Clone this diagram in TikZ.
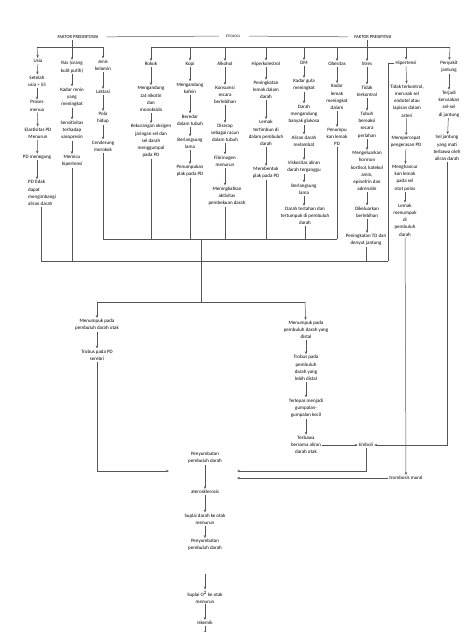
\documentclass[tikz,border=0pt]{standalone}
\usepackage{fontspec}
\setmainfont{Carlito}
\usetikzlibrary{arrows.meta,positioning}
\definecolor{lineGray}{RGB}{85,85,85}

\begin{document}
\begin{tikzpicture}[x=1pt,y=-1pt,
    lbl/.style={font=\fontsize{5}{7.2}\selectfont, align=center, inner sep=1pt},
    hd/.style={font=\fontsize{4.6}{6}\selectfont, inner sep=1pt},
    ln/.style={draw=lineGray, line width=0.5pt},
    arr/.style={ln, -{Stealth[length=3pt,width=2.4pt]}}
  ]
  \useasboundingbox (0,0) rectangle (474,632);
  % Header
  \node[hd] (pre) at (78,37) {FAKTOR PREDISPOSISI};
  \node[hd, font=\fontsize{3.6}{5}\selectfont] (eti) at (233,36) {ETIOLOGI};
  \node[hd] (prs) at (373,37) {FAKTOR PRESIPITASI};
  \draw[ln, shorten <=7pt, shorten >=6pt] (pre) -- (eti);
  \draw[ln, shorten <=8pt, shorten >=5pt] (eti) -- (prs);
  % Bars
  \coordinate (pbL) at (37,47);
  \coordinate (pbR) at (103,47);
  \coordinate (sbL) at (151,47);
  \coordinate (sbR) at (450,47);
  \coordinate (kL) at (103,239);
  \coordinate (kR) at (337,239);
  \coordinate (jL) at (41,261);
  \coordinate (jR) at (388,261);
  \draw[ln] (pbL) -- (pbR);
  \draw[ln] (sbL) -- (sbR);
  \draw[ln] (kL) -- (kR);
  \draw[ln] (jL) -- (jR);

  % Predisposisi: usia
  \node[lbl] (usia) at (38,61) {Usia};
  \node[lbl] (usia55) at (37,81) {Setelah\\usia > 55};
  \node[lbl] (menua) at (37,106) {Proses\\menua};
  \node[lbl] (elast) at (38,133) {Elastisitas PD\\Menurun};
  \node[lbl] (tegang) at (37,157) {PD menegang};
  \node[lbl, align=left, anchor=west] (tidak) at (27,193) {PD tidak\\dapat\\mengimbangi\\aliran darah};
  \draw[arr] (pbL) -- (usia);
  \draw[arr] (usia) -- (usia55);
  \draw[arr] (usia55) -- (menua);
  \draw[arr] (menua) -- (elast);
  \draw[arr] (elast) -- (tegang);
  \draw[arr] (tegang) -- (tegang |- tidak.north);
  \draw[ln] (jL |- tidak.south) -- (jL);
  % Predisposisi: ras
  \node[lbl] (ras) at (72,67) {Ras (orang\\kulit putih)};
  \node[lbl] (renin) at (72,97) {Kadar renin\\yang\\meningkat};
  \node[lbl] (sens) at (72,130) {Sensitivitas\\terhadap\\vasopresin};
  \node[lbl] (memicu) at (72,161) {Memicu\\hipertensi};
  \draw[arr] (pre.south -| ras) -- (ras);
  \draw[arr] (ras) -- (renin);
  \draw[arr] (renin) -- (sens);
  \draw[arr] (sens) -- (memicu);
  \draw[ln] (memicu) -- (memicu |- jL);
  % Predisposisi: jenis kelamin
  \node[lbl] (jenis) at (103,65) {Jenis\\kelamin};
  \node[lbl] (laktasi) at (103,92) {Laktasi};
  \node[lbl] (pola) at (103,118) {Pola\\hidup};
  \node[lbl] (cend) at (103,146) {Cenderung\\merokok};
  \draw[arr] (pbR) -- (jenis);
  \draw[arr] (jenis) -- (laktasi);
  \draw[arr] (laktasi) -- (pola);
  \draw[arr] (pola) -- (cend);
  \draw[ln] (cend) -- (kL);

  % Presipitasi: rokok
  \node[lbl] (rokok) at (151,64) {Rokok};
  \node[lbl] (nikotin) at (151,99) {Mengandung\\zat nikotin\\dan\\monoksida};
  \node[lbl] (kurang) at (151,141) {Kekurangan oksigen\\jaringan sel dan\\sel darah\\menggumpal\\pada PD};
  \draw[arr] (sbL) -- (rokok);
  \draw[arr] (rokok) -- (nikotin);
  \draw[arr] (nikotin) -- (kurang);
  \draw[ln] (kurang) -- (kurang |- kL);
  % Presipitasi: kopi
  \node[lbl] (kopi) at (190,64) {Kopi};
  \node[lbl] (kafein) at (190,88) {Mengandung\\kafein};
  \node[lbl] (beredar) at (190,120) {Beredar\\dalam tubuh};
  \node[lbl] (lama) at (190,143) {Berlangsung\\lama};
  \node[lbl] (plak) at (190,171) {Penumpukan\\plak pada PD};
  \draw[arr] (kopi |- sbL) -- (kopi);
  \draw[arr] (kopi) -- (kafein);
  \draw[arr] (kafein) -- (beredar);
  \draw[arr] (beredar) -- (lama);
  \draw[arr] (lama) -- (plak);
  \draw[ln] (plak) -- (plak |- kL);
  % Presipitasi: alkohol
  \node[lbl] (alkohol) at (225,64) {Alkohol};
  \node[lbl] (konsumsi) at (225,95) {Konsumsi\\secara\\berlebihan};
  \node[lbl] (racun) at (225,133) {Diserap\\sebagai racun\\dalam tubuh};
  \node[lbl] (fibrin) at (225,161) {Fibrinogen\\menurun};
  \node[lbl] (aktiv) at (227,196) {Meningkatkan\\aktivitas\\pembekuan darah};
  \draw[arr] (alkohol |- sbL) -- (alkohol);
  \draw[arr] (alkohol) -- (konsumsi);
  \draw[arr] (konsumsi) -- (racun);
  \draw[arr] (racun) -- (fibrin);
  \draw[arr] (fibrin) -- (fibrin |- aktiv.north);
  \draw[ln] (alkohol |- aktiv.south) -- (alkohol |- kL);
  % Presipitasi: hiperkolestrol
  \node[lbl] (hiper) at (266,64) {Hiperkolestrol};
  \node[lbl] (lemak) at (266,90) {Peningkatan\\lemak dalam\\darah};
  \node[lbl] (timbun) at (266,133) {Lemak\\tertimbun di\\dalam pembuluh\\darah};
  \node[lbl] (bentuk) at (266,173) {Membentuk\\plak pada PD};
  \draw[arr] (hiper |- sbL) -- (hiper);
  \draw[arr] (hiper) -- (lemak);
  \draw[arr] (lemak) -- (timbun);
  \draw[arr] (timbun) -- (bentuk);
  \draw[ln] (bentuk) -- (bentuk |- kL);
  % Presipitasi: DM
  \node[lbl] (dm) at (304,63) {DM};
  \node[lbl] (gula) at (304,85) {Kadar gula\\meningkat};
  \node[lbl] (banyak) at (304,114) {Darah\\mengandung\\banyak glukosa};
  \node[lbl] (lambat) at (304,141) {Aliran darah\\melambat};
  \node[lbl] (visko) at (304,167) {Viskositas aliran\\darah terganggu};
  \node[lbl] (lama2) at (304,189) {Berlangsung\\lama};
  \node[lbl] (tahan) at (305,216) {Darah tertahan dan\\tertumpuk di pembuluh\\darah};
  \draw[arr] (dm |- sbL) -- (dm);
  \draw[arr] (dm) -- (gula);
  \draw[arr] (gula) -- (banyak);
  \draw[arr] (banyak) -- (lambat);
  \draw[arr] (lambat) -- (visko);
  \draw[arr] (visko) -- (lama2);
  \draw[arr] (lama2) -- (lama2 |- tahan.north);
  \draw[ln] (tahan) -- (tahan |- kL);
  % Presipitasi: obesitas
  \node[lbl] (obes) at (337,64) {Obesitas};
  \node[lbl] (kadar) at (337,97) {Kadar\\lemak\\meningkat\\dalam};
  \node[lbl] (numpuk) at (337,137) {Penumpu\\kan lemak\\PD};
  \draw[arr] (obes |- sbL) -- (obes);
  \draw[arr] (obes) -- (kadar);
  \draw[arr] (kadar) -- (numpuk);
  \draw[ln] (numpuk) -- (kR);
  % Presipitasi: stres
  \node[lbl] (stres) at (367,64) {Stres};
  \node[lbl] (takkontrol) at (367,91) {Tidak\\terkontrol};
  \node[lbl] (reaksi) at (367,125) {Tubuh\\bereaksi\\secara\\perlahan};
  \node[lbl] (hormon) at (367,171) {Mengeluarkan\\hormon\\kortisol, katekol\\amin,\\epinefrin dan\\adrenalin};
  \node[lbl] (lebih) at (367,212) {Dikeluarkan\\berlebihan};
  \node[lbl] (td) at (366,240) {Peningkatan TD dan\\denyut jantung};
  \draw[arr] (prs.south -| stres) -- (stres);
  \draw[arr] (stres) -- (takkontrol);
  \draw[arr] (takkontrol) -- (reaksi);
  \draw[arr] (reaksi) -- (hormon);
  \draw[arr] (hormon) -- (lebih);
  \draw[arr] (lebih) -- (lebih |- td.north);
  \draw[ln] (td) -- (td |- jR);
  % Presipitasi: hipertensi
  \node[lbl] (hip) at (406,63) {Hipertensi};
  \node[lbl] (endotel) at (407,101) {Tidak terkontrol,\\merusak sel\\endotel atau\\lapisan dalam\\arteri};
  \node[lbl] (keras) at (406,142) {Mempercepat\\pengerasan PD};
  \node[lbl] (otot) at (405,178) {Menghancur\\kan lemak\\pada sel\\otot polos};
  \node[lbl] (numpuk2) at (405,220) {Lemak\\menumpuk\\di\\pembuluh\\darah};
  \draw[arr] (hip |- sbL) -- (hip);
  \draw[ln] (hip.west) -| (jR);
  \draw[arr] (hip) -- (endotel);
  \draw[arr] (endotel) -- (keras);
  \draw[arr] (keras) -- (otot);
  \draw[arr] (otot) -- (numpuk2);
  % Presipitasi: penyakit jantung
  \node[lbl] (pj) at (449,67) {Penyakit\\jantung};
  \node[lbl] (rusak) at (449,104) {Terjadi\\kerusakan\\sel-sel\\di jantung};
  \node[lbl] (mati) at (447,148) {Sel jantung\\yang mati\\terbawa oleh\\aliran darah};
  \draw[arr] (sbR) -- (pj);
  \draw[arr] (pj) -- (rusak);
  \draw[arr] (rusak) -- (mati);

  % Middle split
  \coordinate (mid) at (201,239);
  \coordinate (bL) at (97,302);
  \coordinate (bR) at (305,302);
  \draw[ln] (mid) -- (mid |- bL);
  \draw[ln] (bL) -- (bR);
  % Left branch
  \node[lbl] (otak) at (97,325) {Menumpuk pada\\pembuluh darah otak};
  \node[lbl] (serebri) at (97,355) {Trobus pada PD\\serebri};
  \draw[arr] (bL) -- (otak);
  \draw[arr] (otak) -- (serebri);
  % Right branch
  \node[lbl] (distal) at (306,330) {Menumpuk pada\\pembuluh darah yang\\distal};
  \node[lbl] (trobus) at (306,368) {Trobus pada\\pembuluh\\darah yang\\lebih distal};
  \node[lbl] (lepas) at (306,408) {Terlepas menjadi\\gumpalan-\\gumpalan kecil};
  \node[lbl] (bawa) at (306,445) {Terbawa\\bersama aliran\\darah otak};
  \node[lbl] (emboli) at (366,445) {Emboli};
  \node[lbl] (mural) at (406,478) {trombosis mural};
  \draw[arr] (bR) -- (distal);
  \draw[arr] (distal) -- (trobus);
  \draw[arr] (trobus) -- (lepas);
  \draw[arr] (lepas) -- (bawa);
  \draw[arr] (bawa) -- (emboli);
  \draw[arr] (mati) |- (emboli);
  \draw[arr] (numpuk2) -- (mural);

  % Bottom chain
  \node[lbl] (sumbat1) at (205,458) {Penyumbatan\\pembuluh darah};
  \node[lbl] (ater) at (205,492) {aterosklerosis};
  \node[lbl] (suplai) at (205,519) {Suplai darah ke otak\\menurun};
  \node[lbl] (sumbat2) at (205,545) {Penyumbatan\\pembuluh darah};
  \node[lbl] (otwo) at (205,597) {Suplai O\textsuperscript{2} ke otak\\menurun};
  \node[lbl] (iskemik) at (205,623) {Iskemik};
  \coordinate (inL) at (169,471);
  \coordinate (inR) at (237,471);
  \coordinate (inR2) at (237,478);
  \coordinate (gapA) at (205,574);
  \coordinate (endB) at (205,634);
  \draw[arr] (serebri) |- (inL);
  \draw[arr] (emboli) |- (inR);
  \draw[arr] (mural) -- (inR2);
  \draw[arr] (sumbat1) -- (ater);
  \draw[arr] (ater) -- (suplai);
  \draw[arr] (suplai) -- (sumbat2);
  \draw[arr] (gapA) -- (otwo);
  \draw[arr] (otwo) -- (iskemik);
  \draw[arr] (iskemik) -- (endB);
\end{tikzpicture}
\end{document}
